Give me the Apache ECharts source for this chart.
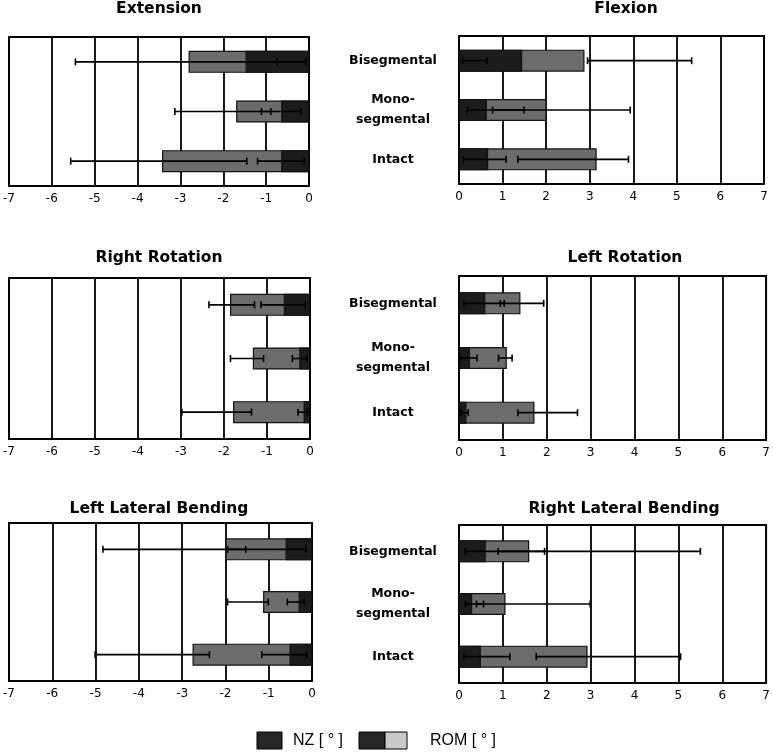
<!DOCTYPE html>
<html>
<head>
<meta charset="utf-8">
<script src="https://cdn.jsdelivr.net/npm/echarts@6/dist/echarts.min.js"></script>
<style>
html,body{margin:0;padding:0;background:#fff;}
#chart{width:773px;height:752px;}
</style>
</head>
<body>
<div id="chart"></div>
<script>
// ---- data ----
const categories = ['Bisegmental', 'Mono-\nsegmental', 'Intact'];
const panelTitles = ['Extension', 'Flexion', 'Right Rotation', 'Left Rotation', 'Left Lateral Bending', 'Right Lateral Bending'];
const legendNZ = 'NZ [ ° ]';
const legendROM = 'ROM [ ° ]';
const leftTicks = [-7, 0];
const rightTicks = [0, 7];

// bar values (Bisegmental, Mono-segmental, Intact)
const extensionNZ = [-1.48, -0.65, -0.65];
const extensionROM = [-2.81, -1.70, -3.43];
const flexionNZ = [1.45, 0.64, 0.67];
const flexionROM = [2.88, 2.01, 3.16];
const rightRotNZ = [-0.61, -0.25, -0.15];
const rightRotROM = [-1.86, -1.33, -1.79];
const leftRotNZ = [0.60, 0.25, 0.17];
const leftRotROM = [1.40, 1.09, 1.72];
const leftLatNZ = [-0.61, -0.31, -0.52];
const leftLatROM = [-2.00, -1.13, -2.76];
const rightLatNZ = [0.61, 0.30, 0.50];
const rightLatROM = [1.60, 1.06, 2.93];

// error bar ranges [low, high]
const extensionNZErr = [[-0.75, -0.07], [-1.11, -0.19], [-1.20, -0.11]];
const extensionROMErr = [[-5.45, -0.75], [-3.13, -0.89], [-5.56, -1.45]];
const flexionNZErr = [[0.08, 0.64], [0.19, 1.49], [0.10, 1.08]];
const flexionROMErr = [[2.95, 5.34], [0.77, 3.93], [1.35, 3.89]];
const rightRotNZErr = [[-1.14, -0.11], [-0.41, -0.07], [-0.28, -0.06]];
const rightRotROMErr = [[-2.35, -1.29], [-1.85, -1.08], [-2.98, -1.36]];
const leftRotNZErr = [[0.11, 1.03], [0.03, 0.41], [0.04, 0.21]];
const leftRotROMErr = [[0.94, 1.93], [0.90, 1.21], [1.34, 2.70]];
const leftLatNZErr = [[-1.95, -0.14], [-0.57, -0.18], [-1.16, -0.12]];
const leftLatROMErr = [[-4.83, -1.53], [-1.95, -1.01], [-5.01, -2.37]];
const rightLatNZErr = [[0.14, 1.95], [0.15, 0.56], [0.11, 1.16]];
const rightLatROMErr = [[0.89, 5.50], [0.40, 2.99], [1.76, 5.05]];

// ---- layout ----
const panels = [
  {title: panelTitles[0], nz: extensionNZ, rom: extensionROM, nzErr: extensionNZErr, romErr: extensionROMErr, side: 'left',
   grid: {left: 7, top: 37, width: 302, height: 149}, tx: 159, ty: 9},
  {title: panelTitles[1], nz: flexionNZ, rom: flexionROM, nzErr: flexionNZErr, romErr: flexionROMErr, side: 'right',
   grid: {left: 459, top: 36, width: 305, height: 148}, tx: 626, ty: 9},
  {title: panelTitles[2], nz: rightRotNZ, rom: rightRotROM, nzErr: rightRotNZErr, romErr: rightRotROMErr, side: 'left',
   grid: {left: 7, top: 278, width: 303, height: 161}, tx: 159, ty: 258},
  {title: panelTitles[3], nz: leftRotNZ, rom: leftRotROM, nzErr: leftRotNZErr, romErr: leftRotROMErr, side: 'right',
   grid: {left: 459, top: 276, width: 309, height: 164}, tx: 625, ty: 258},
  {title: panelTitles[4], nz: leftLatNZ, rom: leftLatROM, nzErr: leftLatNZErr, romErr: leftLatROMErr, side: 'left',
   grid: {left: 7, top: 523, width: 305, height: 158}, tx: 159, ty: 509},
  {title: panelTitles[5], nz: rightLatNZ, rom: rightLatROM, nzErr: rightLatNZErr, romErr: rightLatROMErr, side: 'right',
   grid: {left: 459, top: 525, width: 311, height: 158}, tx: 624, ty: 509}
];

const DARK = '#1c1c1c';
const GRAY = '#6c6c6c';
const LIGHT = '#c9c9c9';
const titleFont = 'bold 15.5px "DejaVu Sans", sans-serif';

function errRender(params, api) {
  const c = api.value(0);
  const p1 = api.coord([api.value(1), c]);
  const p2 = api.coord([api.value(2), c]);
  const h = 3.5;
  const st = {stroke: '#000', lineWidth: 1.6};
  return {
    type: 'group',
    children: [
      {type: 'line', shape: {x1: p1[0], y1: p1[1], x2: p2[0], y2: p2[1]}, style: st},
      {type: 'line', shape: {x1: p1[0], y1: p1[1] - h, x2: p1[0], y2: p1[1] + h}, style: st},
      {type: 'line', shape: {x1: p2[0], y1: p2[1] - h, x2: p2[0], y2: p2[1] + h}, style: st}
    ]
  };
}

const grids = [], xAxes = [], yAxes = [], series = [], graphics = [];
panels.forEach((p, i) => {
  grids.push(Object.assign({show: true, borderColor: '#000', borderWidth: 1.8, backgroundColor: '#fff', containLabel: false}, p.grid));
  const ticks = p.side === 'left' ? leftTicks : rightTicks;
  xAxes.push({
    type: 'value', gridIndex: i, min: ticks[0], max: ticks[1], interval: 1,
    axisLine: {show: false}, axisTick: {show: false},
    axisLabel: {color: '#000', fontSize: 12, fontFamily: '"DejaVu Sans", sans-serif', margin: 7},
    splitLine: {show: true, lineStyle: {color: '#000', width: 1.8}}
  });
  yAxes.push({
    type: 'category', gridIndex: i, data: categories, inverse: true,
    axisLine: {show: false}, axisTick: {show: false}, splitLine: {show: false},
    axisLabel: {show: p.side === 'right', color: '#000', fontSize: 12.5, fontWeight: 'bold',
      fontFamily: '"DejaVu Sans", sans-serif', align: 'center', margin: 66, lineHeight: 20}
  });
  series.push({
    type: 'bar', xAxisIndex: i, yAxisIndex: i, data: p.rom, barWidth: 22, barGap: '-100%', z: 2,
    itemStyle: {color: GRAY, borderColor: '#111', borderWidth: 1.2}, silent: true
  });
  series.push({
    type: 'bar', xAxisIndex: i, yAxisIndex: i, data: p.nz, barWidth: 22, barGap: '-100%', z: 3,
    itemStyle: {color: DARK, borderColor: '#111', borderWidth: 1.2}, silent: true
  });
  const errData = [];
  p.nzErr.forEach((r, k) => errData.push([k, r[0], r[1]]));
  p.romErr.forEach((r, k) => errData.push([k, r[0], r[1]]));
  series.push({
    type: 'custom', xAxisIndex: i, yAxisIndex: i, z: 5, silent: true,
    renderItem: errRender, encode: {y: 0, x: [1, 2]}, data: errData
  });
  graphics.push({
    type: 'text', x: p.tx, y: p.ty,
    style: {text: p.title, font: titleFont, fill: '#000', align: 'center', verticalAlign: 'middle'}
  });
});

// legend (drawn as graphics)
graphics.push({type: 'rect', shape: {x: 257, y: 732, width: 25, height: 17}, style: {fill: '#262626', stroke: '#000', lineWidth: 1}});
graphics.push({type: 'text', x: 293, y: 741, style: {text: legendNZ, font: '16px "Liberation Sans", Arial, sans-serif', fill: '#000', align: 'left', verticalAlign: 'middle'}});
graphics.push({type: 'rect', shape: {x: 359, y: 732, width: 26, height: 17}, style: {fill: '#262626', stroke: '#000', lineWidth: 1}});
graphics.push({type: 'rect', shape: {x: 385, y: 732, width: 22, height: 17}, style: {fill: LIGHT, stroke: '#000', lineWidth: 1}});
graphics.push({type: 'text', x: 430, y: 741, style: {text: legendROM, font: '16px "Liberation Sans", Arial, sans-serif', fill: '#000', align: 'left', verticalAlign: 'middle'}});

const chart = echarts.init(document.getElementById('chart'), null, {renderer: 'canvas'});
chart.setOption({
  animation: false,
  backgroundColor: '#fff',
  grid: grids,
  xAxis: xAxes,
  yAxis: yAxes,
  series: series,
  graphic: graphics
});
</script>
</body>
</html>
